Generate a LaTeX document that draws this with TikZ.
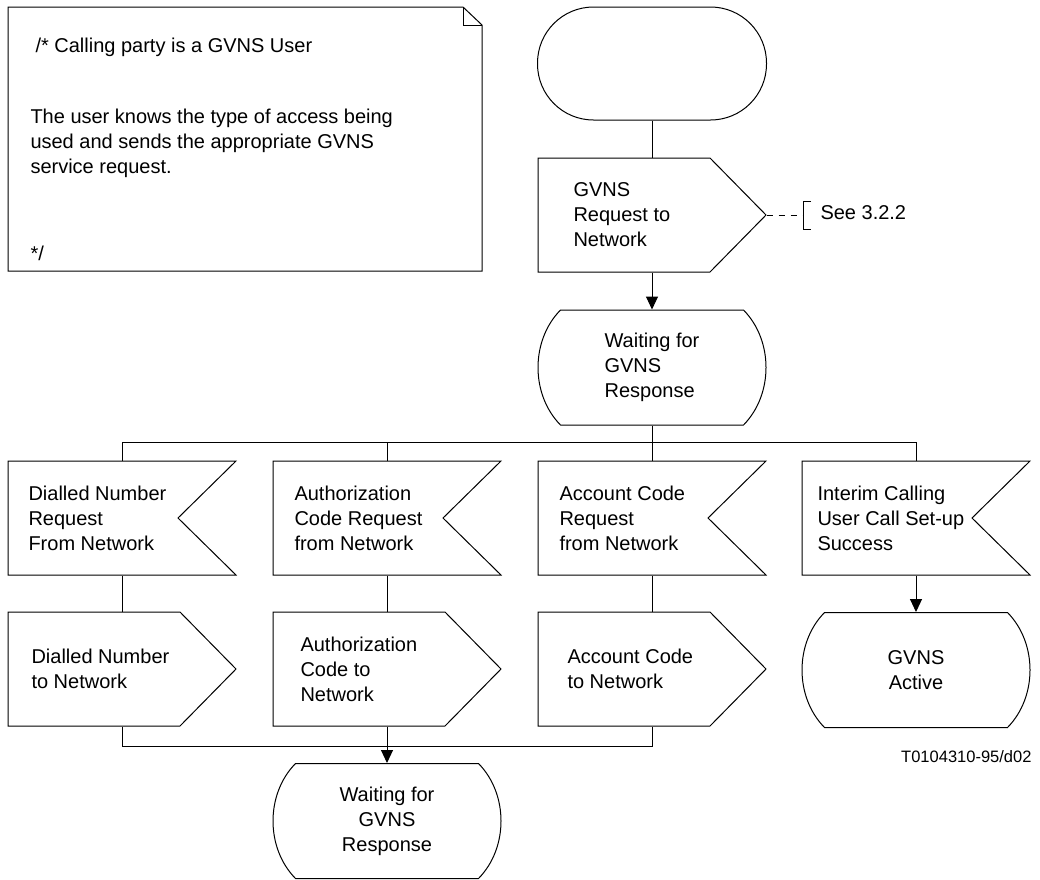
\documentclass[tikz,border=0pt]{standalone}
\usepackage{fontspec}
\setmainfont{Liberation Sans}
\usetikzlibrary{arrows.meta}

\tikzset{
	sdlbox/.style={draw=none, inner sep=0, minimum width=228pt, minimum height=114pt},
	sdltext/.style={inner sep=0, font=\fontsize{20}{25}\selectfont, align=left},
	flow/.style={-{Triangle[width=12pt,length=13pt]}},
}

% name, cx, cy, text x, text
\newcommand{\sdlout}[5] {
	\node[sdlbox] (#1) at (#2,#3) {};
	\draw (#2-114,#3-57) -- (#2+58,#3-57) -- (#2+114,#3) -- (#2+58,#3+57) -- (#2-114,#3+57) -- cycle;
	\node[sdltext, anchor=west] (#1-t) at (#4,#3) {#5};
}

\newcommand{\sdlin}[5] {
	\node[sdlbox] (#1) at (#2,#3) {};
	\draw (#2-114,#3-57) -- (#2+114,#3-57) -- (#2+56,#3) -- (#2+114,#3+57) -- (#2-114,#3+57) -- cycle;
	\node[sdltext, anchor=west] (#1-t) at (#4,#3) {#5};
}

% [align], name, cx, cy, text
\newcommand{\sdlstate}[5][center] {
	\node[sdlbox, minimum height=115pt] (#2) at (#3,#4) {};
	\draw (#3-91.5,#4-57.5) -- (#3+91.5,#4-57.5) .. controls (#3+121.5,#4-27) and (#3+121.5,#4+27) .. (#3+91.5,#4+57.5)
		-- (#3-91.5,#4+57.5) .. controls (#3-121.5,#4+27) and (#3-121.5,#4-27) .. (#3-91.5,#4-57.5) -- cycle;
	\node[sdltext, align=#1] (#2-t) at (#3,#4) {#5};
}

\begin{document}
\begin{tikzpicture}[x=1pt, y=-1pt, line width=1pt]
	\useasboundingbox (0,0) rectangle (1040,879);

	% comment
	\draw (8,7) -- (463,7) -- (482,25) -- (482,271) -- (8,271) -- cycle;
	\draw (463,7) -- (463,25) -- (482,25);
	\node[sdltext, anchor=west] (note-a) at (35,47) {/* Calling party is a GVNS User};
	\node[sdltext, anchor=west] (note-b) at (30,143) {The user knows the type of access being\\used and sends the appropriate GVNS\\service request.};
	\node[sdltext, anchor=west] (note-c) at (30,253) {*/};

	\node[draw, rounded corners=56pt, minimum width=229pt, minimum height=113pt] (start) at (652,63.5) {};
	\sdlout{req}{652}{215}{573}{GVNS\\Request to\\Network}
	\sdlstate[left]{wait1}{652}{367.5}{Waiting for\\GVNS\\Response}

	\sdlin{in1}{122}{518}{28}{Dialled Number\\Request\\From Network}
	\sdlin{in2}{387}{518}{294}{Authorization\\Code Request\\from Network}
	\sdlin{in3}{652}{518}{559}{Account Code\\Request\\from Network}
	\sdlin{in4}{916}{518}{817}{Interim Calling\\User Call Set-up\\Success}

	\sdlout{out1}{122}{669}{31}{Dialled Number\\to Network}
	\sdlout{out2}{387}{669}{300}{Authorization\\Code to\\Network}
	\sdlout{out3}{652}{669}{567}{Account Code\\to Network}
	\sdlstate{active}{916}{670}{GVNS\\Active}

	\sdlstate{wait2}{387}{821}{Waiting for\\GVNS\\Response}

	\coordinate (bustop) at (0,442);
	\coordinate (busbot) at (0,746);
	\coordinate (brk) at (803,215);

	\draw (start.south) -- (req.north);
	\draw[flow] (req.south) -- (wait1.north);
	\draw (wait1.south) -- (in3.north);
	\draw (in1.north) |- (in4.north |- bustop) -- (in4.north);
	\draw (in2.north) -- (in2.north |- bustop);

	\draw (in1.south) -- (out1.north);
	\draw (in2.south) -- (out2.north);
	\draw (in3.south) -- (out3.north);
	\draw[flow] (in4.south) -- (active.north);

	\draw (out1.south) |- (out3.south |- busbot) -- (out3.south);
	\draw[flow] (out2.south) -- (wait2.north);

	\draw[dash pattern=on 6pt off 6pt] (req.east) -- (brk);
	\draw (brk) ++(8,-14) -- ++(-8,0) -- ++(0,28) -- ++(8,0);
	\node[sdltext, anchor=west] (see) at (820,213) {See 3.2.2};

	\node[inner sep=0, font=\fontsize{16.5}{20}\selectfont, anchor=east] (fig) at (1032,757) {T0104310-95/d02};
\end{tikzpicture}
\end{document}
